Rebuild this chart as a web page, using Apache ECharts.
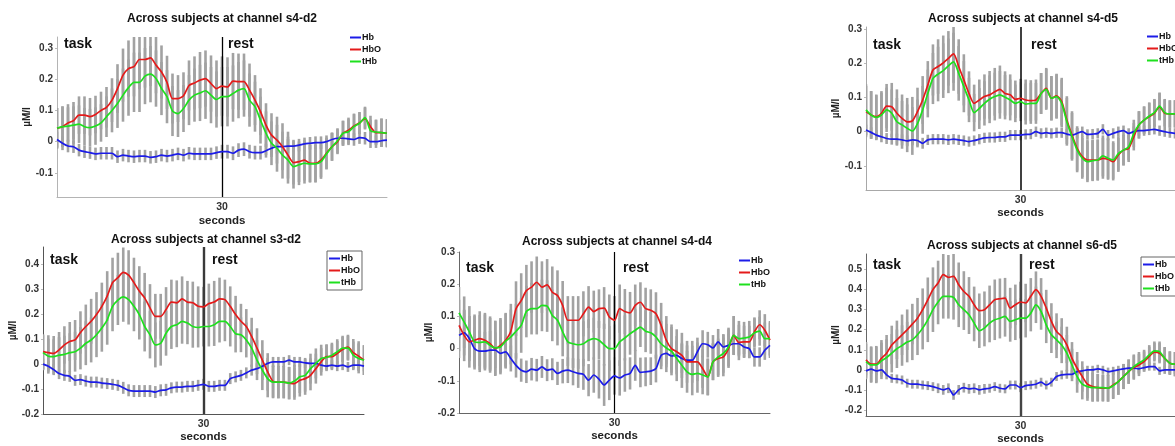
<!DOCTYPE html>
<html>
<head>
<meta charset="utf-8">
<script src="https://cdn.jsdelivr.net/npm/echarts@6/dist/echarts.min.js"></script>
<style>
  html, body { margin: 0; padding: 0; background: #fff; }
  #chart { width: 1175px; height: 446px; }
</style>
</head>
<body>
<div id="chart"></div>
<script>
// Sample times (s) of the block-averaged haemodynamic response
const seconds = [0,1,2,3,4,5,6,7,8,9,10,11,12,13,14,15,16,17,18,19,20,21,22,23,24,25,26,27,28,29,30,
  31,32,33,34,35,36,37,38,39,40,41,42,43,44,45,46,47,48,49,50,51,52,53,54,55,56,57,58,59,60];

// ---- channel s4-d2 (µM/l) ----
const s4d2_HbO = [0.043,0.048,0.06,0.067,0.085,0.085,0.08,0.087,0.1,0.11, 0.133,0.17,0.213,0.234,0.24,0.263,0.263,0.268,0.245,0.223,
  0.19,0.138,0.138,0.147,0.18,0.188,0.197,0.202,0.186,0.17, 0.178,0.175,0.194,0.192,0.192,0.165,0.133,0.096,0.053,0.021,
  0.005,-0.016,-0.043,-0.067,-0.064,-0.059,-0.069,-0.069,-0.059,-0.037, -0.016,0,0.027,0.037,0.05,0.06,0.074,0.048,0.029,0.029,0.027];
const s4d2_tHb = [0.043,0.048,0.05,0.053,0.056,0.048,0.045,0.05,0.06,0.08, 0.1,0.122,0.149,0.173,0.19,0.19,0.21,0.216,0.202,0.17,
  0.144,0.098,0.09,0.106,0.133,0.149,0.156,0.163,0.149,0.135, 0.144,0.144,0.154,0.165,0.17,0.133,0.112,0.069,0.027,-0.005,
  -0.021,-0.043,-0.059,-0.08,-0.074,-0.069,-0.071,-0.071,-0.064,-0.039, -0.016,0.003,0.027,0.032,0.048,0.059,0.077,0.035,0.031,0.029,0.027];
const s4d2_Hb = [0.007,-0.005,-0.014,-0.016,-0.027,-0.032,-0.035,-0.039,-0.037,-0.037, -0.037,-0.048,-0.043,-0.046,-0.048,-0.046,-0.046,-0.05,-0.048,-0.043,
  -0.046,-0.043,-0.039,-0.043,-0.037,-0.039,-0.039,-0.039,-0.039,-0.035, -0.032,-0.032,-0.037,-0.027,-0.024,-0.032,-0.035,-0.035,-0.029,-0.021,
  -0.016,-0.016,-0.014,-0.014,-0.011,-0.007,-0.005,-0.003,-0.003,0, 0.007,0.011,0.011,0.009,0.007,0.013,0.011,0,0,0.003,0.005];
const s4d2_err = [0.065,0.065,0.06,0.06,0.06,0.06,0.06,0.06,0.06,0.065, 0.07,0.078,0.085,0.09,0.095,0.095,0.09,0.09,0.09,0.085,
  0.085,0.08,0.075,0.075,0.08,0.085,0.09,0.09,0.09,0.09, 0.095,0.095,0.09,0.09,0.09,0.085,0.08,0.075,0.07,0.07,
  0.075,0.075,0.075,0.07,0.065,0.065,0.06,0.06,0.055,0.05, 0.045,0.04,0.04,0.04,0.04,0.035,0.035,0.035,0.04,0.045,0.045];
const s4d2_errHb = [0.025,0.022,0.02,0.02,0.02,0.02,0.02,0.02,0.02,0.02, 0.02,0.02,0.02,0.02,0.02,0.02,0.02,0.02,0.02,0.02,
  0.02,0.02,0.02,0.02,0.02,0.02,0.02,0.02,0.02,0.02, 0.022,0.022,0.022,0.022,0.022,0.022,0.022,0.022,0.022,0.022,
  0.022,0.022,0.022,0.02,0.02,0.02,0.02,0.02,0.02,0.02, 0.02,0.02,0.02,0.02,0.02,0.02,0.02,0.02,0.02,0.02,0.02];

// ---- channel s4-d5 ----
const s4d5_HbO = [0.059,0.049,0.044,0.054,0.075,0.073,0.054,0.039,0.029,0.032, 0.059,0.093,0.137,0.181,0.191,0.202,0.215,0.228,0.191,0.152,
  0.112,0.083,0.093,0.103,0.108,0.117,0.124,0.112,0.108,0.095, 0.098,0.093,0.091,0.093,0.112,0.127,0.098,0.105,0.088,0.034,
  -0.01,-0.049,-0.073,-0.083,-0.083,-0.083,-0.078,-0.081,-0.088,-0.068, -0.054,-0.049,-0.015,0.02,0.034,0.044,0.054,0.073,0.054,0.052,0.052];
const s4d5_tHb = [0.064,0.049,0.042,0.049,0.064,0.054,0.029,0.02,0.01,0.002, 0.024,0.064,0.112,0.156,0.169,0.179,0.193,0.205,0.171,0.132,
  0.093,0.056,0.068,0.083,0.095,0.103,0.108,0.101,0.093,0.083, 0.088,0.081,0.083,0.083,0.112,0.124,0.098,0.103,0.083,0.029,
  -0.015,-0.054,-0.078,-0.088,-0.085,-0.083,-0.071,-0.078,-0.083,-0.064, -0.054,-0.044,-0.005,0.02,0.034,0.046,0.056,0.075,0.056,0.052,0.052];
const s4d5_Hb = [0.005,-0.002,-0.01,-0.015,-0.02,-0.022,-0.022,-0.024,-0.027,-0.024, -0.026,-0.034,-0.024,-0.022,-0.022,-0.022,-0.024,-0.022,-0.024,-0.026,
  -0.029,-0.026,-0.022,-0.018,-0.017,-0.017,-0.015,-0.015,-0.01,-0.01, -0.01,-0.008,-0.007,0,-0.005,-0.003,-0.005,-0.003,-0.003,-0.007,
  -0.01,-0.005,0,-0.008,-0.007,-0.005,0.007,-0.01,-0.005,0, 0.003,-0.005,0,0.003,0.003,0.005,0.007,0.003,0,-0.003,-0.005];
const s4d5_err = [0.075,0.07,0.065,0.065,0.065,0.07,0.07,0.07,0.07,0.07, 0.07,0.07,0.07,0.075,0.08,0.08,0.08,0.085,0.08,0.075,
  0.065,0.055,0.06,0.065,0.07,0.07,0.07,0.065,0.06,0.055, 0.057,0.06,0.06,0.06,0.06,0.06,0.065,0.065,0.07,0.07,
  0.07,0.065,0.06,0.06,0.06,0.06,0.06,0.06,0.055,0.05, 0.045,0.04,0.04,0.04,0.04,0.04,0.04,0.04,0.04,0.04,0.04];
const s4d5_errHb = [0.015,0.015,0.015,0.016,0.016,0.016,0.016,0.016,0.016,0.016, 0.016,0.016,0.015,0.015,0.015,0.015,0.015,0.015,0.015,0.015,
  0.015,0.015,0.015,0.015,0.015,0.015,0.015,0.015,0.015,0.015, 0.015,0.015,0.015,0.015,0.015,0.015,0.015,0.015,0.015,0.015,
  0.015,0.015,0.015,0.015,0.015,0.015,0.015,0.015,0.015,0.015, 0.015,0.015,0.015,0.015,0.015,0.015,0.015,0.015,0.015,0.015,0.015];

// ---- channel s3-d2 ----
const s3d2_HbO = [0.05,0.046,0.043,0.057,0.077,0.091,0.097,0.127,0.151,0.172, 0.199,0.232,0.273,0.327,0.347,0.368,0.357,0.327,0.293,0.266,
  0.226,0.192,0.192,0.219,0.249,0.246,0.262,0.249,0.246,0.232, 0.23,0.243,0.249,0.262,0.259,0.232,0.199,0.172,0.151,0.111,
  0.064,0.016,-0.031,-0.069,-0.072,-0.072,-0.076,-0.078,-0.065,-0.058, -0.045,-0.018,0.009,0.03,0.03,0.043,0.059,0.068,0.046,0.032,0.016];
const s3d2_tHb = [0.046,0.032,0.03,0.036,0.039,0.046,0.05,0.064,0.084,0.097, 0.118,0.145,0.178,0.232,0.257,0.27,0.259,0.232,0.199,0.151,
  0.118,0.077,0.084,0.124,0.151,0.158,0.172,0.165,0.151,0.147, 0.151,0.151,0.158,0.172,0.172,0.151,0.122,0.118,0.097,0.064,
  0.016,-0.024,-0.058,-0.072,-0.072,-0.072,-0.076,-0.068,-0.051,-0.045, -0.018,0.003,0.023,0.027,0.036,0.05,0.064,0.064,0.036,0.023,0.016];
const s3d2_Hb = [0,-0.008,-0.022,-0.038,-0.045,-0.049,-0.065,-0.062,-0.068,-0.072, -0.072,-0.076,-0.078,-0.081,-0.085,-0.095,-0.105,-0.108,-0.108,-0.108,
  -0.108,-0.112,-0.105,-0.103,-0.095,-0.092,-0.092,-0.089,-0.089,-0.085, -0.081,-0.089,-0.089,-0.085,-0.085,-0.058,-0.051,-0.045,-0.035,-0.024,
  -0.018,-0.008,0.003,0.009,0.009,0.009,0.016,0.009,0.009,0.005, 0.003,0.003,-0.004,-0.008,-0.004,-0.008,-0.004,-0.011,-0.004,-0.004,-0.008];
const s3d2_err = [0.07,0.07,0.07,0.072,0.075,0.078,0.08,0.085,0.088,0.09, 0.09,0.095,0.1,0.1,0.1,0.1,0.1,0.1,0.1,0.1,
  0.095,0.09,0.09,0.09,0.09,0.09,0.09,0.085,0.085,0.08, 0.08,0.08,0.085,0.085,0.08,0.08,0.075,0.07,0.07,0.075,
  0.08,0.08,0.075,0.065,0.065,0.065,0.065,0.065,0.065,0.065, 0.06,0.06,0.055,0.05,0.05,0.05,0.05,0.05,0.055,0.06,0.06];
const s3d2_errHb = [0.022,0.022,0.022,0.022,0.022,0.022,0.022,0.022,0.022,0.022, 0.022,0.022,0.022,0.022,0.022,0.024,0.024,0.024,0.024,0.024,
  0.024,0.024,0.024,0.024,0.022,0.022,0.022,0.022,0.022,0.022, 0.022,0.022,0.022,0.022,0.022,0.022,0.022,0.022,0.022,0.022,
  0.022,0.022,0.022,0.02,0.02,0.02,0.02,0.02,0.02,0.02, 0.02,0.02,0.02,0.02,0.02,0.02,0.02,0.02,0.02,0.02,0.02];

// ---- channel s4-d4 ----
const s4d4_HbO = [0.072,0.041,0.021,0.026,0.031,0.026,0.015,0,0.01,0.026, 0.054,0.124,0.149,0.18,0.191,0.206,0.191,0.198,0.175,0.165,
  0.134,0.088,0.088,0.088,0.108,0.129,0.115,0.124,0.126,0.098, 0.088,0.124,0.115,0.111,0.134,0.144,0.124,0.119,0.108,0.072,
  0.026,0,-0.01,-0.021,-0.041,-0.041,-0.041,-0.062,-0.088,-0.041, -0.031,-0.026,0,0.041,0.019,0.021,0.021,0.052,0.074,0.057,0.026];
const s4d4_tHb = [0.111,0.082,0.052,0.021,0.019,0.021,0.01,0.002,0.005,0.023, 0.036,0.054,0.072,0.115,0.124,0.124,0.134,0.132,0.103,0.088,
  0.052,0.021,0.015,0.012,0.015,0.026,0.031,0.026,0.012,0, 0,0.021,0.033,0.046,0.057,0.067,0.054,0.049,0.036,0.015,
  0.002,-0.008,-0.031,-0.052,-0.072,-0.08,-0.077,-0.082,-0.088,-0.041, -0.026,-0.015,0.005,0.041,0.031,0.033,0.036,0.049,0.054,0.031,0.031];
const s4d4_Hb = [0.041,0.049,0.031,0,-0.008,-0.008,-0.005,-0.005,-0.015,-0.01, -0.031,-0.052,-0.067,-0.072,-0.064,-0.067,-0.057,-0.067,-0.064,-0.077,
  -0.07,-0.067,-0.072,-0.077,-0.08,-0.098,-0.082,-0.095,-0.113,-0.098, -0.085,-0.091,-0.082,-0.077,-0.052,-0.074,-0.072,-0.07,-0.062,-0.021,
  -0.015,-0.023,-0.021,-0.031,-0.036,-0.036,-0.01,0.015,0.012,0.002, 0.021,0.005,0.01,0.015,0.015,0.005,0,-0.026,-0.026,-0.005,0.01];
const s4d4_err = [0.08,0.08,0.08,0.08,0.085,0.085,0.085,0.085,0.085,0.085, 0.085,0.085,0.085,0.08,0.08,0.08,0.08,0.08,0.08,0.078,
  0.076,0.075,0.075,0.075,0.07,0.065,0.065,0.06,0.065,0.07, 0.075,0.075,0.07,0.065,0.065,0.062,0.065,0.065,0.067,0.07,
  0.075,0.075,0.07,0.07,0.065,0.065,0.06,0.06,0.057,0.057, 0.057,0.06,0.06,0.06,0.055,0.05,0.05,0.045,0.045,0.05,0.055];
const s4d4_errHb = [0.07,0.07,0.07,0.065,0.065,0.06,0.06,0.055,0.05,0.045, 0.04,0.038,0.036,0.035,0.035,0.035,0.034,0.034,0.034,0.036,
  0.038,0.04,0.042,0.045,0.048,0.05,0.055,0.06,0.065,0.062, 0.058,0.055,0.052,0.05,0.048,0.046,0.045,0.043,0.043,0.043,
  0.043,0.043,0.044,0.045,0.046,0.045,0.044,0.042,0.04,0.04, 0.04,0.038,0.036,0.035,0.034,0.032,0.03,0.03,0.03,0.03,0.03];

// ---- channel s6-d5 ----
const s6d5_HbO = [0.051,0.03,0.03,0.059,0.084,0.125,0.15,0.175,0.2,0.228, 0.257,0.299,0.348,0.398,0.431,0.472,0.459,0.464,0.422,0.389,
  0.365,0.323,0.294,0.299,0.323,0.348,0.353,0.356,0.307,0.323, 0.337,0.332,0.365,0.398,0.365,0.307,0.241,0.191,0.167,0.125,
  0.059,0.01,-0.031,-0.069,-0.081,-0.086,-0.089,-0.089,-0.073,-0.056, -0.031,-0.007,0.013,0.026,0.043,0.068,0.089,0.084,0.059,0.035,0.03];
const s6d5_tHb = [0.043,0.026,0.026,0.046,0.063,0.084,0.106,0.122,0.139,0.15, 0.175,0.208,0.249,0.299,0.337,0.365,0.365,0.36,0.323,0.299,
  0.274,0.233,0.195,0.208,0.233,0.249,0.257,0.266,0.241,0.249, 0.257,0.257,0.282,0.323,0.29,0.224,0.175,0.15,0.125,0.084,
  0.026,-0.031,-0.069,-0.081,-0.086,-0.086,-0.086,-0.089,-0.076,-0.056, -0.031,-0.007,0.018,0.035,0.051,0.076,0.096,0.092,0.059,0.035,0.03];
const s6d5_Hb = [-0.003,0.005,-0.003,0.002,-0.023,-0.04,-0.043,-0.048,-0.064,-0.069, -0.069,-0.073,-0.076,-0.081,-0.089,-0.097,-0.089,-0.122,-0.097,-0.086,
  -0.092,-0.089,-0.097,-0.092,-0.089,-0.081,-0.089,-0.092,-0.073,-0.073, -0.086,-0.076,-0.073,-0.069,-0.059,-0.073,-0.059,-0.031,-0.023,-0.02,
  -0.02,-0.007,-0.003,0.002,0.002,0.007,0.002,-0.007,-0.003,0.002, 0.007,0.01,0.01,0.007,0.013,0.018,0.018,-0.003,0.002,0.002,0.002];
const s6d5_err = [0.088,0.088,0.09,0.09,0.09,0.095,0.095,0.1,0.1,0.1, 0.1,0.105,0.11,0.11,0.11,0.11,0.11,0.11,0.11,0.1,
  0.095,0.09,0.085,0.09,0.095,0.1,0.1,0.1,0.1,0.1, 0.1,0.095,0.09,0.09,0.09,0.09,0.09,0.09,0.09,0.09,
  0.08,0.08,0.075,0.07,0.07,0.068,0.066,0.066,0.066,0.065, 0.062,0.06,0.06,0.055,0.05,0.048,0.046,0.05,0.055,0.058,0.06];
const s6d5_errHb = [0.022,0.022,0.022,0.022,0.022,0.022,0.022,0.022,0.022,0.022, 0.022,0.022,0.022,0.022,0.024,0.024,0.024,0.024,0.024,0.024,
  0.024,0.024,0.024,0.024,0.022,0.022,0.022,0.022,0.022,0.022, 0.022,0.022,0.022,0.022,0.022,0.022,0.022,0.022,0.022,0.022,
  0.02,0.02,0.02,0.02,0.02,0.02,0.02,0.02,0.02,0.02, 0.02,0.02,0.02,0.02,0.02,0.02,0.02,0.02,0.02,0.02,0.02];

// Tick labels
const xTicks = [30];
const yTicks_s4d2 = [-0.1, 0, 0.1, 0.2, 0.3];
const yTicks_s4d5 = [-0.1, 0, 0.1, 0.2, 0.3];
const yTicks_s3d2 = [-0.2, -0.1, 0, 0.1, 0.2, 0.3, 0.4];
const yTicks_s4d4 = [-0.2, -0.1, 0, 0.1, 0.2, 0.3];
const yTicks_s6d5 = [-0.2, -0.1, 0, 0.1, 0.2, 0.3, 0.4, 0.5];

const seriesNames = ['Hb', 'HbO', 'tHb'];
const FONT = 'Liberation Sans, Arial, Helvetica, sans-serif';
const COLORS = { Hb: '#1c1ce8', HbO: '#e41a1a', tHb: '#1ee01e' };

// Panel layout (pixel boxes of each axes) and per-panel styling
const panels = [
  { title: 'Across subjects at channel s4-d2', Hb: s4d2_Hb, HbO: s4d2_HbO, tHb: s4d2_tHb, err: s4d2_err, errHb: s4d2_errHb,
    yTicks: yTicks_s4d2, yMin: -0.177, yMax: 0.335,
    grid: { left: 57, top: 37, width: 330, height: 160 }, axisColor: '#b4b4b4', onset: { color: '#000', width: 1.3 },
    titleXY: [222, 19], task: [64, 44], rest: [228, 44], nameGapY: 21, nameGapX: 18,
    legend: { left: 350, top: 33, box: false } },
  { title: 'Across subjects at channel s4-d5', Hb: s4d5_Hb, HbO: s4d5_HbO, tHb: s4d5_tHb, err: s4d5_err, errHb: s4d5_errHb,
    yTicks: yTicks_s4d5, yMin: -0.171, yMax: 0.307,
    grid: { left: 866, top: 27, width: 315, height: 163 }, axisColor: '#a8a8a8', onset: { color: '#000', width: 1.5 },
    titleXY: [1023, 19], task: [873, 45], rest: [1031, 45], nameGapY: 20, nameGapX: 16,
    legend: { left: 1147, top: 32, box: false } },
  { title: 'Across subjects at channel s3-d2', Hb: s3d2_Hb, HbO: s3d2_HbO, tHb: s3d2_tHb, err: s3d2_err, errHb: s3d2_errHb,
    yTicks: yTicks_s3d2, yMin: -0.2, yMax: 0.47,
    grid: { left: 43, top: 247, width: 321, height: 167 }, axisColor: '#555', onset: { color: '#3a3a3a', width: 2.4 },
    titleXY: [206, 240], task: [50, 260], rest: [212, 260], nameGapY: 24, nameGapX: 17,
    legend: { left: 327, top: 251, box: true } },
  { title: 'Across subjects at channel s4-d4', Hb: s4d4_Hb, HbO: s4d4_HbO, tHb: s4d4_tHb, err: s4d4_err, errHb: s4d4_errHb,
    yTicks: yTicks_s4d4, yMin: -0.2, yMax: 0.3,
    grid: { left: 459, top: 252, width: 311, height: 161 }, axisColor: '#666', onset: { color: '#000', width: 1.2 },
    titleXY: [617, 242], task: [466, 268], rest: [623, 268], nameGapY: 20, nameGapX: 17,
    legend: { left: 739, top: 256, box: false } },
  { title: 'Across subjects at channel s6-d5', Hb: s6d5_Hb, HbO: s6d5_HbO, tHb: s6d5_tHb, err: s6d5_err, errHb: s6d5_errHb,
    yTicks: yTicks_s6d5, yMin: -0.226, yMax: 0.574,
    grid: { left: 866, top: 254, width: 312, height: 162 }, axisColor: '#666', onset: { color: '#444', width: 2.4 },
    titleXY: [1022, 246], task: [873, 265], rest: [1029, 265], nameGapY: 22, nameGapX: 16,
    legend: { left: 1141, top: 257, box: true } }
];

// One vertical error bar per sample: [t, mean, half-width]
function renderErrorBar(params, api) {
  const t = api.value(0), m = api.value(1), e = api.value(2);
  const lo = api.coord([t, m - e]);
  const hi = api.coord([t, m + e]);
  return {
    type: 'line',
    shape: { x1: lo[0], y1: lo[1], x2: hi[0], y2: hi[1] },
    style: { stroke: '#a2a2a2', lineWidth: 2.6 }
  };
}

const tickFmt = v => String(Math.round(v * 100) / 100);

const grids = [], xAxes = [], yAxes = [], series = [], legends = [], graphics = [];

panels.forEach((p, i) => {
  grids.push(Object.assign({ containLabel: false }, p.grid));
  xAxes.push({
    type: 'value', gridIndex: i, min: 0, max: 60,
    name: 'seconds', nameLocation: 'middle', nameGap: p.nameGapX,
    nameTextStyle: { fontFamily: FONT, fontWeight: 'bold', fontSize: 11.5, color: '#222' },
    axisLine: { show: true, onZero: false, lineStyle: { color: p.axisColor, width: 1 } },
    axisTick: { show: false },
    axisLabel: { customValues: xTicks, margin: 5, fontFamily: FONT, fontWeight: 'bold', fontSize: 10.5, color: '#333' },
    splitLine: { show: false }
  });
  yAxes.push({
    type: 'value', gridIndex: i, min: p.yMin, max: p.yMax,
    name: 'µM/l', nameLocation: 'middle', nameGap: p.nameGapY, nameRotate: 90,
    nameTextStyle: { fontFamily: FONT, fontWeight: 'bold', fontSize: 10, color: '#222' },
    axisLine: { show: true, onZero: false, lineStyle: { color: p.axisColor, width: 1 } },
    axisTick: { show: true, customValues: p.yTicks, length: 2, lineStyle: { color: '#bbb' } },
    axisLabel: { customValues: p.yTicks, formatter: tickFmt, margin: 4, fontFamily: FONT, fontWeight: 'bold', fontSize: 10, color: '#333' },
    splitLine: { show: false }
  });

  // grey error bars: HbO and tHb first, Hb last
  [['HbO', p.err], ['tHb', p.err], ['Hb', p.errHb]].forEach(([key, err]) => {
    series.push({
      type: 'custom', name: key + ' sem', xAxisIndex: i, yAxisIndex: i, z: 1, silent: true, clip: true,
      renderItem: renderErrorBar, encode: { x: 0, y: 1 },
      data: seconds.map((t, k) => [t, p[key][k], err[k]])
    });
  });

  // mean time courses
  seriesNames.forEach(key => {
    const s = {
      type: 'line', name: key, xAxisIndex: i, yAxisIndex: i, z: 3,
      symbol: 'none', smooth: 0.25, silent: true,
      lineStyle: { color: COLORS[key], width: 1.7 }, itemStyle: { color: COLORS[key] },
      data: seconds.map((t, k) => [t, p[key][k]])
    };
    if (key === 'Hb') {
      // end of the task block
      s.markLine = {
        silent: true, symbol: ['none', 'none'], label: { show: false }, z: 2,
        lineStyle: { color: p.onset.color, width: p.onset.width, type: 'solid' },
        data: [{ xAxis: 30 }]
      };
    }
    series.push(s);
  });

  legends.push({
    data: seriesNames, orient: 'vertical', left: p.legend.left, top: p.legend.top,
    icon: 'rect', itemWidth: 11, itemHeight: 2, itemGap: 3, selectedMode: false,
    padding: p.legend.box ? [3, 2, 3, 2] : 0,
    borderColor: '#666', borderWidth: p.legend.box ? 1 : 0, backgroundColor: p.legend.box ? '#fff' : 'transparent',
    textStyle: { fontFamily: FONT, fontWeight: 'bold', fontSize: 9, color: '#111', padding: [0, 0, 0, -4] }
  });

  graphics.push({
    type: 'text', x: p.titleXY[0], y: p.titleXY[1], silent: true,
    style: { text: p.title, align: 'center', verticalAlign: 'middle', fill: '#111',
      font: 'bold 12px ' + FONT }
  });
  graphics.push({
    type: 'text', x: p.task[0], y: p.task[1], silent: true,
    style: { text: 'task', align: 'left', verticalAlign: 'middle', fill: '#111', font: 'bold 14px ' + FONT }
  });
  graphics.push({
    type: 'text', x: p.rest[0], y: p.rest[1], silent: true,
    style: { text: 'rest', align: 'left', verticalAlign: 'middle', fill: '#111', font: 'bold 14px ' + FONT }
  });
});

const chart = echarts.init(document.getElementById('chart'), null, { renderer: 'canvas' });
chart.setOption({
  animation: false,
  backgroundColor: '#fff',
  grid: grids,
  xAxis: xAxes,
  yAxis: yAxes,
  legend: legends,
  series: series,
  graphic: graphics
});
</script>
</body>
</html>
